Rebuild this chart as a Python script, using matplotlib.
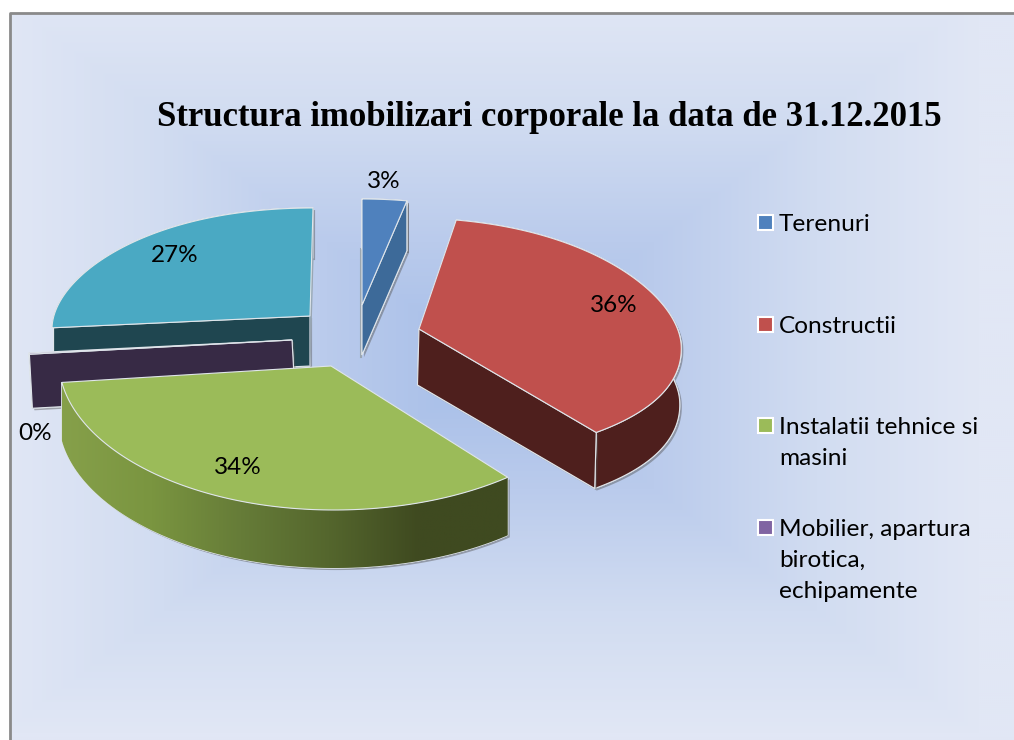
from matplotlib import pyplot as plt
from matplotlib.colors import LinearSegmentedColormap
from matplotlib.patches import Polygon, Rectangle
import matplotlib.patheffects as pe
import numpy as np

title = 'Structura imobilizari corporale la data de 31.12.2015'
values = [3, 36, 34, 0.2, 27]
legend_labels = ['Terenuri', 'Constructii', 'Instalatii tehnice si\nmasini',
                 'Mobilier, apartura\nbirotica,\nechipamente']
legend_colors = ['#4f81bd', '#c0504d', '#9bbb59', '#8064a2']

top_colors = ['#4f81bd', '#c0504d', '#9bbb59', '#8064a2', '#4aa9c3']
wall_colors = ['#3d6a99', '#4e1f1d', '#5b6e30', '#372a45', '#1f4650']
green_wall = ['#86a04a', '#7a9540', '#667c38', '#54662d', '#3f4a20', '#3f4a20']
bg_colors = ['#a5bde8', '#bacbec', '#d1dcf1', '#e1e7f5']

# apex x, apex y, half width, back height, front height, x shear, y tilt, depth, depth dx
geom = [(362, 305, 240, 106, 106, 0, 0, 50, 0),
        (419, 329, 262, 111, 130, 12, 14, 56, -1.5),
        (331, 366, 272, 144, 144, 3, 3, 58, 0),
        (292, 340, 265, 106, 106, 0, 0, 54, 3),
        (310, 316, 258, 108, 0, -3, -12, 50, 0)]
# which radial edge shows its wall: 1 = end edge, 0 = start edge, None = hidden
radial_edge = [1, 1, None, 0, 0]
label_pos = [(384, 181), (614, 305), (238, 468), (35, 433), (175, 255)]
legend_y = [223, 325, 426, 528]
draw_order = [4, 3, 0, 1, 2]


def rim(theta, g):
    x0, y0, a, b_back, b_front, shear, tilt = g[:7]
    b = np.where(np.cos(theta) > 0, b_back, b_front)
    x = x0 + a * np.sin(theta) - shear * np.cos(theta)
    y = y0 - b * np.cos(theta) + tilt * np.sin(theta) ** 3
    return np.column_stack((x, y))


def add_poly(ax, pts, color, z, edge='#dfe5ea', lw=0.8, shadow=False):
    patch = Polygon(pts, closed=True, facecolor=color, edgecolor=edge, linewidth=lw, zorder=z)
    if shadow:
        patch.set_path_effects([pe.withSimplePatchShadow(offset=(1.5, -1.5), shadow_rgbFace='#555555', alpha=0.45),
                                pe.Normal()])
    ax.add_patch(patch)
    return patch


fig = plt.figure(figsize=(10.14, 7.4), dpi=100, facecolor='white')
ax = fig.add_axes([0, 0, 1, 1])
ax.set_xlim(0, 1014)
ax.set_ylim(740, 0)
ax.axis('off')

# background, rectangular path gradient
xx, yy = np.meshgrid(np.linspace(10, 1014, 502), np.linspace(13, 740, 364))
t = np.maximum(np.abs(xx - 490) / 490, np.abs(yy - 365) / 370)
ax.imshow(np.clip(t, 0, 1), extent=(10, 1014, 740, 13), aspect='auto', zorder=0,
          cmap=LinearSegmentedColormap.from_list('bg', bg_colors))
ax.plot([10, 10, 1014], [740, 13, 13], color='#8a8a8a', linewidth=2, zorder=1)
ax.set_xlim(0, 1014)
ax.set_ylim(740, 0)

edges = np.radians(np.concatenate(([0], np.cumsum(values)))) * 360 / sum(values)

for i in draw_order:
    g = geom[i]
    depth = np.array([g[8], g[7]])
    z = 2 + draw_order.index(i) * 3
    theta = np.linspace(edges[i], edges[i + 1], 120)
    arc = rim(theta, g)
    apex = np.array([g[0], g[1]], dtype=float)

    # outer wall
    wall = np.vstack((arc, (arc + depth)[::-1]))
    wall_patch = add_poly(ax, wall, wall_colors[i], z, shadow=True)
    if i == 2:
        grad = ax.imshow(np.linspace(0, 1, 256).reshape(1, -1), extent=(wall[:, 0].min(), wall[:, 0].max(), 600, 370),
                         aspect='auto', zorder=z + 0.5,
                         cmap=LinearSegmentedColormap.from_list('gw', green_wall))
        grad.set_clip_path(wall_patch)
        ax.set_xlim(0, 1014)
        ax.set_ylim(740, 0)

    # radial wall
    if radial_edge[i] is not None:
        p = arc[-1] if radial_edge[i] == 1 else arc[0]
        add_poly(ax, [apex, p, p + depth, apex + depth], wall_colors[i], z + 1, shadow=True)

    # top face
    add_poly(ax, np.vstack((apex, arc)), top_colors[i], z + 2)

# side strip behind the teal slice and the blue slice
teal_side = rim(np.array([edges[5]]), geom[4])[0]
add_poly(ax, [teal_side, geom[4][:2], (geom[4][0], geom[4][1] + 50), teal_side + [0, 50]],
         '#8fb4c6', 3, edge='#9aa6b2', lw=0.8)
blue_side = rim(np.array([edges[0]]), geom[0])[0]
ax.plot([blue_side[0] - 1, blue_side[0] - 1], [blue_side[1] + 50, geom[0][1] + 52], color='#9aa6b2',
        linewidth=1.5, zorder=5)

for v, (lx, ly) in zip(values, label_pos):
    ax.text(lx, ly, f'{v:.0f}%', family='Lato', fontsize=17.5, color='black', ha='center', va='center', zorder=40)

ax.text(549, 117, title, family='Liberation Serif', fontweight='bold', fontsize=25, color='black',
        ha='center', va='center', zorder=40)

for name, col, ly in zip(legend_labels, legend_colors, legend_y):
    ax.add_patch(Rectangle((757.5, ly - 8), 15, 15, facecolor=col, edgecolor='white', linewidth=1.5, zorder=40))
    ax.text(779, ly - 9, name, family='Lato', fontsize=17.6, color='black', ha='left', va='top',
            linespacing=1.6, zorder=40)

fig.savefig('out.png', dpi=100)
